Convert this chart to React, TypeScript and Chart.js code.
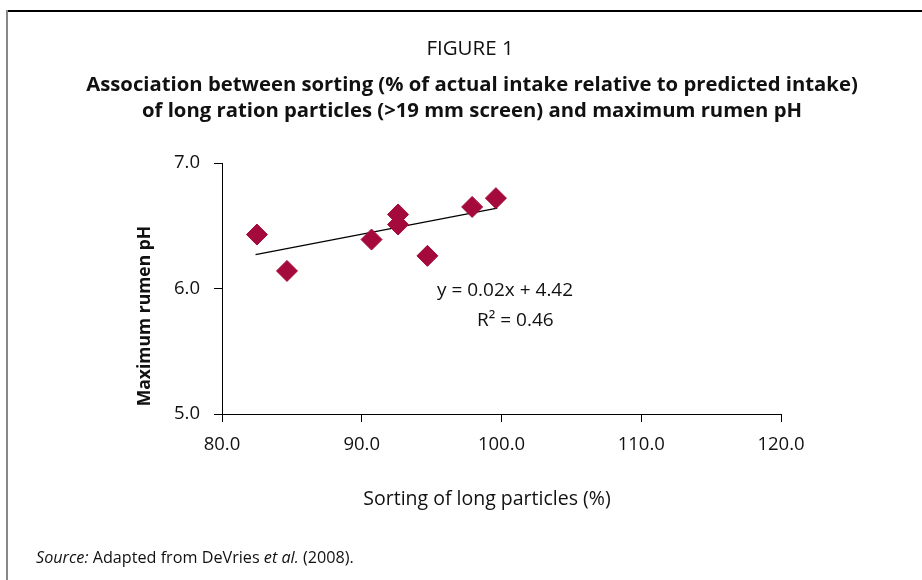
import React, { useEffect, useRef } from "react";
import { Chart, registerables } from "chart.js";

Chart.register(...registerables);

const sortingPct = [82.5, 84.65, 90.7, 92.6, 92.6, 94.7, 97.9, 99.6];
const maxRumenPH = [6.43, 6.14, 6.39, 6.59, 6.51, 6.26, 6.65, 6.72];
const trendX = [82.4, 99.7];
const trendY = [6.27, 6.64];
const xTicks = [80, 90, 100, 110, 120];
const yTicks = [5, 6, 7];
const equationLines = ["y = 0.02x + 4.42", "R\u00B2 = 0.46"];
const xTitle = "Sorting of long particles (%)";
const yTitle = "Maximum rumen pH";

const FONT = "'Open Sans', 'Noto Sans', sans-serif";
const MARKER = "#A50A3C";

const textPlugin = {
  id: "textPlugin",
  afterDraw(chart: any) {
    const ctx = chart.ctx;
    ctx.save();
    ctx.fillStyle = "#111";
    ctx.textBaseline = "middle";
    ctx.font = `19.5px ${FONT}`;
    ctx.textAlign = "center";
    ctx.fillText(xTitle, 487, 499);
    ctx.font = `19px ${FONT}`;
    ctx.textAlign = "left";
    ctx.fillText(equationLines[0], 437, 291);
    ctx.fillText(equationLines[1], 477, 321);
    ctx.translate(145, 316);
    ctx.rotate(-Math.PI / 2);
    ctx.textAlign = "center";
    ctx.font = `bold 17.5px ${FONT}`;
    ctx.fillText(yTitle, 0, 0);
    ctx.restore();
  },
};

export default function App() {
  const ref = useRef<HTMLCanvasElement>(null);
  useEffect(() => {
    if (!ref.current) return;
    const chart = new Chart(ref.current, {
      type: "scatter",
      data: {
        datasets: [
          {
            type: "scatter",
            label: "Points",
            data: sortingPct.map((x, i) => ({ x, y: maxRumenPH[i] })),
            pointStyle: "rectRot",
            pointRadius: 10.5,
            pointBackgroundColor: MARKER,
            pointBorderColor: MARKER,
            pointBorderWidth: 1,
            order: 0,
          },
          {
            type: "line",
            label: "Trend",
            data: trendX.map((x, i) => ({ x, y: trendY[i] })),
            borderColor: "#000",
            borderWidth: 1.2,
            pointRadius: 0,
            showLine: true,
            fill: false,
            order: 1,
          } as any,
        ],
      },
      options: {
        animation: false,
        responsive: false,
        layout: { padding: { left: 100, right: 141, top: 163, bottom: 100 } },
        plugins: {
          legend: { display: false },
          tooltip: { enabled: false },
          title: { display: false },
        },
        scales: {
          x: {
            type: "linear",
            min: 80,
            max: 120,
            afterBuildTicks: (s: any) => {
              s.ticks = xTicks.map((v) => ({ value: v }));
            },
            afterFit: (s: any) => {
              s.height = 66;
            },
            ticks: {
              padding: 12,
              color: "#111",
              font: { family: FONT, size: 18.5 },
              callback: (v: any) => Number(v).toFixed(1),
              maxRotation: 0,
            },
            grid: {
              drawOnChartArea: false,
              drawTicks: true,
              tickLength: 8,
              color: "#000",
            },
            border: { display: true, color: "#000", width: 1 },
          },
          y: {
            type: "linear",
            min: 5,
            max: 7,
            afterBuildTicks: (s: any) => {
              s.ticks = yTicks.map((v) => ({ value: v }));
            },
            afterFit: (s: any) => {
              s.width = 122;
            },
            ticks: {
              padding: 14,
              color: "#111",
              font: { family: FONT, size: 18.5 },
              callback: (v: any) => Number(v).toFixed(1),
            },
            grid: {
              drawOnChartArea: false,
              drawTicks: true,
              tickLength: 8,
              color: "#000",
            },
            border: { display: true, color: "#000", width: 1 },
          },
        },
      },
      plugins: [textPlugin],
    } as any);
    return () => chart.destroy();
  }, []);

  const abs = (o: any): React.CSSProperties => ({ position: "absolute", ...o });
  return (
    <div style={abs({ left: 0, top: 0, width: 922, height: 580, background: "#fff", fontFamily: FONT, color: "#111", overflow: "hidden" })}>
      <canvas ref={ref} width={922} height={580} style={abs({ left: 0, top: 0, width: 922, height: 580 })} />
      <div style={abs({ left: 7, top: 10, width: 915, height: 2, background: "#000" })} />
      <div style={abs({ left: 6, top: 10, width: 2, height: 570, background: "#888" })} />
      <div style={abs({ left: 0, width: 940, top: 35, lineHeight: "24px", fontSize: 20.5, textAlign: "center" })}>FIGURE 1</div>
      <div style={abs({ left: 0, width: 944, top: 70, lineHeight: "26px", fontSize: 20.3, fontWeight: 700, textAlign: "center" })}>
        Association between sorting (% of actual intake relative to predicted intake)
        <br />
        of long ration particles (&gt;19 mm screen) and maximum rumen pH
      </div>
      <div style={abs({ left: 36, top: 546, lineHeight: "22px", fontSize: 16.2 })}>
        <i>Source:</i> Adapted from DeVries <i>et al.</i> (2008).
      </div>
    </div>
  );
}
